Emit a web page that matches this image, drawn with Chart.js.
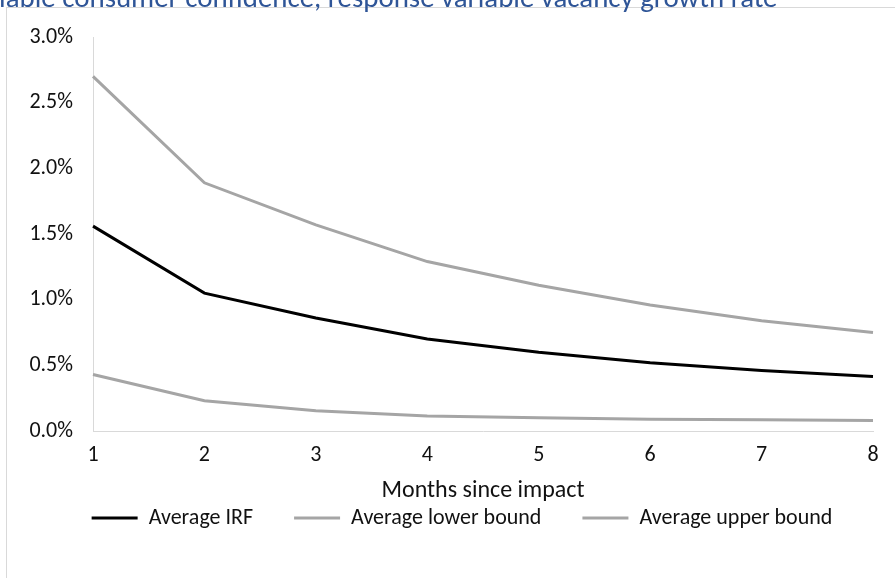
<!DOCTYPE html>
<html>
<head>
<meta charset="utf-8">
<script src="https://cdn.jsdelivr.net/npm/chart.js@4.4.1/dist/chart.umd.min.js"></script>
<style>
  html, body { margin: 0; padding: 0; background: #ffffff; overflow: hidden; }
  #wrap { position: relative; width: 895px; height: 578px; }
  #frame { position: absolute; left: 6px; top: 7px; width: 900px; height: 600px; border: 1px solid #d9d9d9; box-sizing: border-box; }
  #c { position: absolute; left: 0; top: 0; }
</style>
</head>
<body>
<div id="wrap">
  <div id="frame"></div>
  <canvas id="c" width="895" height="578"></canvas>
</div>
<script>
// ---- data (values in percent) ----
const categories = ['1', '2', '3', '4', '5', '6', '7', '8'];
const averageIRF = [1.56, 1.05, 0.86, 0.70, 0.60, 0.52, 0.46, 0.415];
const averageLowerBound = [0.43, 0.23, 0.155, 0.115, 0.10, 0.09, 0.085, 0.08];
const averageUpperBound = [2.70, 1.89, 1.57, 1.29, 1.11, 0.96, 0.84, 0.75];
const seriesNames = ['Average IRF', 'Average lower bound', 'Average upper bound'];
const yTickValues = [0, 0.5, 1.0, 1.5, 2.0, 2.5, 3.0];
const titleText = 'iable consumer confidence, response variable vacancy growth rate';
const xAxisTitle = 'Months since impact';

const FONT = "Carlito, Calibri, Lato, 'Noto Sans', sans-serif";
const TEXT = '#111111';

const partialTitle = {
  id: 'partialTitle',
  afterDraw(chart) {
    const ctx = chart.ctx;
    ctx.save();
    ctx.font = '100px ' + FONT;
    const w100 = ctx.measureText(titleText).width;
    const size = 779 * 100 / w100;
    ctx.font = size + 'px ' + FONT;
    ctx.fillStyle = '#2F5597';
    ctx.textBaseline = 'alphabetic';
    ctx.textAlign = 'left';
    ctx.fillText(titleText, -1, 7);
    ctx.restore();
  }
};

// keep the legend on one row and centre it like the reference
const legendRow = {
  id: 'legendRow',
  afterInit(chart) {
    const lg = chart.legend;
    if (lg && !lg._wideRow) {
      const orig = lg.update.bind(lg);
      lg.update = (mw, mh, margins) => orig(Math.max(mw, 890), mh, margins);
      lg._wideRow = true;
    }
  },
  afterLayout(chart) {
    const lg = chart.legend;
    if (lg) { lg.left = 40; lg.right = 884; }
  }
};

new Chart(document.getElementById('c'), {
  type: 'line',
  data: {
    labels: categories,
    datasets: [
      { label: seriesNames[0], data: averageIRF, borderColor: '#000000', backgroundColor: '#000000', borderWidth: 3, pointRadius: 0, tension: 0 },
      { label: seriesNames[1], data: averageLowerBound, borderColor: '#A5A5A5', backgroundColor: '#A5A5A5', borderWidth: 3, pointRadius: 0, tension: 0 },
      { label: seriesNames[2], data: averageUpperBound, borderColor: '#A5A5A5', backgroundColor: '#A5A5A5', borderWidth: 3, pointRadius: 0, tension: 0 }
    ]
  },
  options: {
    responsive: false,
    animation: false,
    devicePixelRatio: 1,
    layout: { padding: { top: 37, left: 4, right: 22, bottom: 39 } },
    plugins: {
      title: { display: false },
      tooltip: { enabled: false },
      legend: {
        display: true,
        position: 'bottom',
        labels: {
          usePointStyle: true,
          pointStyle: 'line',
          pointStyleWidth: 46,
          padding: 41,
          color: TEXT,
          font: { family: FONT, size: 22 }
        }
      }
    },
    scales: {
      x: {
        type: 'category',
        offset: false,
        grid: { display: false, drawTicks: false },
        border: { display: true, color: '#D9D9D9', width: 1 },
        ticks: { color: TEXT, font: { family: FONT, size: 22 }, padding: 11, maxRotation: 0, autoSkip: false },
        title: { display: true, text: xAxisTitle, color: TEXT, font: { family: FONT, size: 24 }, padding: { top: 0, bottom: -39 } },
        afterFit(scale) { scale.height = 35; }
      },
      y: {
        min: 0,
        max: 3,
        grid: { display: false, drawTicks: false },
        border: { display: true, color: '#D9D9D9', width: 1 },
        afterBuildTicks(scale) { scale.ticks = yTickValues.map(v => ({ value: v })); },
        ticks: {
          color: TEXT,
          font: { family: FONT, size: 22 },
          padding: 20,
          callback: (v) => Number(v).toFixed(1) + '%'
        },
        afterFit(scale) { scale.width = 89; }
      }
    }
  },
  plugins: [partialTitle, legendRow]
});
</script>
</body>
</html>
